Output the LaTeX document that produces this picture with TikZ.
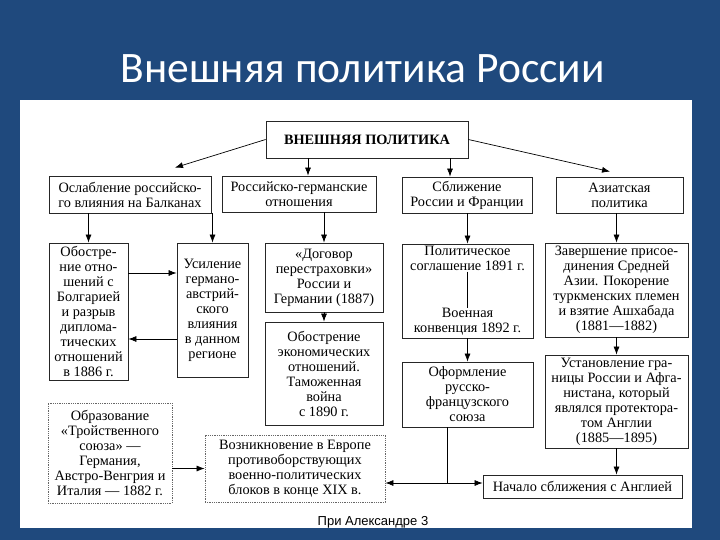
\documentclass[tikz,border=0pt]{standalone}
\usepackage{fontspec}
\setmainfont{Liberation Serif}
\newfontfamily\titlefont{Carlito}
\newfontfamily\notefont{Liberation Sans}
\usetikzlibrary{arrows.meta, positioning}
\definecolor{slideblue}{RGB}{31,73,125}

\begin{document}
\begin{tikzpicture}[x=1pt, y=-1pt,
      box/.style={draw=black!85, line width=0.8pt, align=center, inner sep=0.5pt, font=\fontsize{14.3}{15}\selectfont},
      dotbox/.style={box, draw=black!60, densely dotted},
      plain/.style={align=center, inner sep=0.5pt, font=\fontsize{14.3}{15}\selectfont},
      arr/.style={-{Latex[length=8pt, width=6pt]}, line width=0.7pt}]
    \fill[slideblue] (0,0) rectangle (720,540);
    \fill[white] (20,100) rectangle (692,528);
    \node[anchor=base west, text=white, font=\titlefont\fontsize{43.5}{46}\selectfont] (title) at (117,83) {Внешняя политика России};
    \node[box, minimum width=202pt, minimum height=37pt, font=\bfseries\fontsize{14.3}{15}\selectfont] (top) at (367,139.5) {ВНЕШНЯЯ ПОЛИТИКА};
    \node[box, minimum width=162pt, minimum height=37pt] (balk) at (130,194.5) {Ослабление российско-\\го влияния на Балканах};
    \node[box, minimum width=154pt, minimum height=36pt] (germ) at (299,194) {Российско-германские\\отношения};
    \node[box, minimum width=130pt, minimum height=36pt] (fran) at (467,195) {Сближение\\России и Франции};
    \node[box, minimum width=127pt, minimum height=36pt] (asia) at (619.5,195) {Азиатская\\политика};
    \node[box, minimum width=79pt, minimum height=137pt] (bulg) at (88.5,311.5) {Обостре-\\ние отно-\\шений с\\Болгарией\\и разрыв\\диплома-\\тических\\отношений\\в 1886 г.};
    \node[box, minimum width=71pt, minimum height=134pt] (austr) at (212.5,310) {Усиление\\германо-\\австрий-\\ского\\влияния\\в данном\\регионе};
    \node[box, minimum width=118pt, minimum height=69pt] (treaty) at (324,277.5) {«Договор\\перестраховки»\\России и\\Германии (1887)};
    \node[box, minimum width=118pt, minimum height=103pt] (tariff) at (324,373.5) {Обострение\\экономических\\отношений.\\Таможенная\\война\\с 1890 г.};
    \node[box, minimum width=131pt, minimum height=94pt] (pact) at (467.5,291) {};
    \node[plain, anchor=north] (pacta) at ([yshift=-2pt]pact.north) {Политическое\\соглашение 1891 г.};
    \node[plain, anchor=south] (pactb) at ([yshift=2pt]pact.south) {Военная\\конвенция 1892 г.};
    \node[box, minimum width=131pt, minimum height=65pt] (union) at (467.5,394.5) {Оформление\\русско-\\французского\\союза};
    \node[box, minimum width=143pt, minimum height=94pt] (turk) at (616.5,290) {Завершение присое-\\динения Средней\\Азии. Покорение\\туркменских племен\\и взятие Ашхабада\\(1881—1882)};
    \node[box, minimum width=143pt, minimum height=93pt] (afgh) at (616.5,401.5) {Установление гра-\\ницы России и Афга-\\нистана, который\\являлся протектора-\\том Англии\\(1885—1895)};
    \node[box, minimum width=199pt, minimum height=23pt] (engl) at (582.5,486.5) {Начало сближения с Англией};
    \node[dotbox, minimum width=180pt, minimum height=67pt] (blocs) at (295,468.5) {Возникновение в Европе\\противоборствующих\\военно-политических\\блоков в конце XIX в.};
    \node[dotbox, minimum width=124pt, minimum height=100pt] (triple) at (110,453) {Образование\\«Тройственного\\союза» —\\Германия,\\Австро-Венгрия и\\Италия — 1882 г.};
    \node[font=\notefont\fontsize{13}{15}\selectfont] (note) at (373,522) {При Александре 3};
    \coordinate (split) at (447,483);
    \draw[arr] (top.west) -- ([xshift=45pt, yshift=8pt]balk.north);
    \draw[arr] ([xshift=-59pt]top.south) -- ([xshift=9pt]germ.north);
    \draw[arr] ([xshift=83pt]top.south) -- ([xshift=-17pt]fran.north);
    \draw[arr] (top.east) -- ([xshift=-9.5pt, yshift=5pt]asia.north);
    \draw[arr] (balk.south -| bulg.north) -- (bulg.north);
    \draw[arr] (balk.south -| austr.north) -- (austr.north);
    \draw[arr] (germ.south -| treaty.north) -- (treaty.north);
    \draw[arr] (fran.south -| pact.north) -- (pact.north);
    \draw[arr] (asia.south -| turk.north) -- (turk.north);
    \draw[arr] (bulg.east |- 0,273) -- (austr.west |- 0,273);
    \draw[arr] (austr.west |- 0,339) -- (bulg.east |- 0,339);
    \draw[arr] (treaty) -- (tariff);
    \draw (pacta) -- (pactb);
    \draw[arr] (pact) -- (union);
    \draw[arr] (turk) -- (afgh);
    \draw[arr] (afgh.south) -- (afgh.south |- engl.north);
    \draw (union.south -| split) -- (split);
    \draw[arr] (split) -- (blocs.east |- split);
    \draw[arr] (split) -- (engl.west |- split);
    \draw[arr] (triple.east |- blocs.west) -- (blocs.west);
  \end{tikzpicture}
\end{document}
